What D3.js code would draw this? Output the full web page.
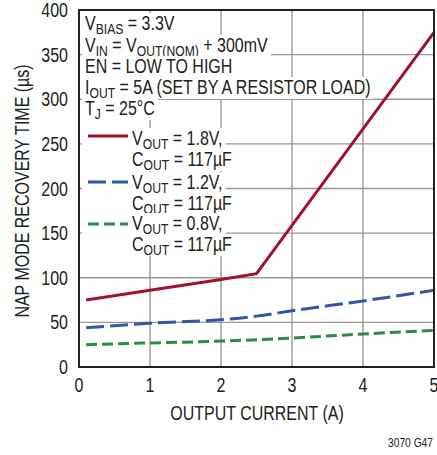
<!DOCTYPE html>
<html><head><meta charset="utf-8">
<script src="https://cdn.jsdelivr.net/npm/d3@7"></script>
<style>
html,body{margin:0;padding:0;background:#fff;}
svg{display:block;}
text{font-family:"Liberation Sans",Arial,sans-serif;fill:#222;}
</style></head>
<body>
<svg id="c" width="437" height="455"></svg>
<script>
// ---- data ----
const xTicks = [0, 1, 2, 3, 4, 5];
const yTicks = [0, 50, 100, 150, 200, 250, 300, 350, 400];
const current18 = [0.1, 1, 2, 2.5, 5];
const time18 = [75, 86, 98, 104.5, 375];
const current12 = [0.1, 1, 2, 2.5, 3, 4, 5];
const time12 = [44, 49, 53, 57, 63, 74, 86];
const current08 = [0.1, 1, 2, 3, 4, 5];
const time08 = [25, 27, 29, 32.5, 37, 41];
const seriesNames = [
  [["V"], ["OUT", 1], [" = 1.8V,"]],
  [["V"], ["OUT", 1], [" = 1.2V,"]],
  [["V"], ["OUT", 1], [" = 0.8V,"]]
];
const capLabel = [["C"], ["OUT", 1], [" = 117µF"]];
const notes = [
  [["V"], ["BIAS", 1], [" = 3.3V"]],
  [["V"], ["IN", 1], [" = V"], ["OUT(NOM)", 1], [" + 300mV"]],
  [["EN = LOW TO HIGH"]],
  [["I"], ["OUT", 1], [" = 5A (SET BY A RESISTOR LOAD)"]],
  [["T"], ["J", 1], [" = 25°C"]]
];
const xTitle = "OUTPUT CURRENT (A)";
const yTitle = "NAP MODE RECOVERY TIME (µs)";
const figId = "3070 G47";

// ---- layout ----
const L = 79, R = 434, T = 10, B = 367;
const FS = 19.5;
const SX = 0.82; // narrow face emulation
const svg = d3.select("#c");
const x = d3.scaleLinear().domain([0, 5]).range([L, R]);
const y = d3.scaleLinear().domain([0, 400]).range([B, T]);

// gridlines
const grid = svg.append("g");
grid.selectAll("line.v").data(xTicks).join("line")
  .attr("x1", d => x(d)).attr("x2", d => x(d)).attr("y1", T).attr("y2", B)
  .attr("stroke", "#999").attr("stroke-width", 1.4);
grid.selectAll("line.h").data(yTicks).join("line")
  .attr("y1", d => y(d)).attr("y2", d => y(d)).attr("x1", L).attr("x2", R)
  .attr("stroke", "#999").attr("stroke-width", 1.4);

// narrow text helper
function ntext(parent, xx, yy, size, anchor, extra) {
  const g = parent.append("g").attr("transform", `translate(${xx},${yy})${extra || ""} scale(${SX},1)`);
  const t = g.append("text").attr("x", 0).attr("y", 0).style("font-size", size + "px");
  if (anchor) t.attr("text-anchor", anchor);
  return { g, t };
}
function rich(parent, xx, yy, segs, size) {
  const o = ntext(parent, xx, yy, size);
  let sub = false;
  segs.forEach(s => {
    const ts = o.t.append("tspan").text(s[0]);
    if (s[1]) { ts.style("font-size", (size * 0.76) + "px"); if (!sub) ts.attr("dy", 3.5); sub = true; }
    else if (sub) { ts.attr("dy", -3.5); sub = false; }
  });
  return o;
}
function withBg(o, padL, top, bot) {
  const bb = o.t.node().getBBox();
  o.g.insert("rect", "text").attr("x", bb.x - padL / SX).attr("y", -top)
    .attr("width", bb.width + (padL + 3) / SX).attr("height", top + bot).attr("fill", "#fff");
}

// annotation block
const ann = svg.append("g");
const noteBase = [30, 52, 73, 94, 115];
notes.forEach((n, i) => { const o = rich(ann, 85, noteBase[i], n, FS); withBg(o, 3, 17, 5); });

// legend
const leg = svg.append("g");
const legColors = ["#a0132f", "#3556a6", "#2e8a45"];
const legDash = [null, "18,6", "11,5"];
const legLineY = [136, 182, 224];
const legBase = [[145, 166], [189, 210], [230, 251]];
seriesNames.forEach((s, i) => {
  withBg(rich(leg, 132, legBase[i][0], s, FS), 50, 17, 5);
  withBg(rich(leg, 132, legBase[i][1], capLabel, FS), 50, 17, 5);
});
seriesNames.forEach((s, i) => {
  leg.append("line").attr("x1", 88).attr("x2", 128).attr("y1", legLineY[i]).attr("y2", legLineY[i])
    .attr("stroke", legColors[i]).attr("stroke-width", 3).attr("stroke-dasharray", legDash[i]);
});

// data lines
const smooth = d3.line().x(d => x(d[0])).y(d => y(d[1])).curve(d3.curveMonotoneX);
const straight = d3.line().x(d => x(d[0])).y(d => y(d[1]));
const data = [
  d3.zip(current18, time18),
  d3.zip(current12, time12),
  d3.zip(current08, time08)
];
const plot = svg.append("g");
data.forEach((d, i) => {
  plot.append("path").attr("d", (i === 0 ? straight : smooth)(d))
    .attr("fill", "none").attr("stroke", legColors[i]).attr("stroke-width", 3)
    .attr("stroke-dasharray", legDash[i]);
});

// frame
svg.append("rect").attr("x", L).attr("y", T).attr("width", R - L).attr("height", B - T)
  .attr("fill", "none").attr("stroke", "#222").attr("stroke-width", 2);

// tick labels
const yt = svg.append("g");
yTicks.forEach(v => ntext(yt, 68, y(v) + 7, FS, "end").t.text(v));
const xt = svg.append("g");
xTicks.forEach(v => ntext(xt, x(v), 392, FS, "middle").t.text(v));

// titles
ntext(svg, 257, 420, FS, "middle").t.text(xTitle);
ntext(svg, 29, 191, FS, "middle", " rotate(-90)").t.text(yTitle);
ntext(svg, 433, 447, 12.5, "end").t.text(figId);
</script>
</body></html>
